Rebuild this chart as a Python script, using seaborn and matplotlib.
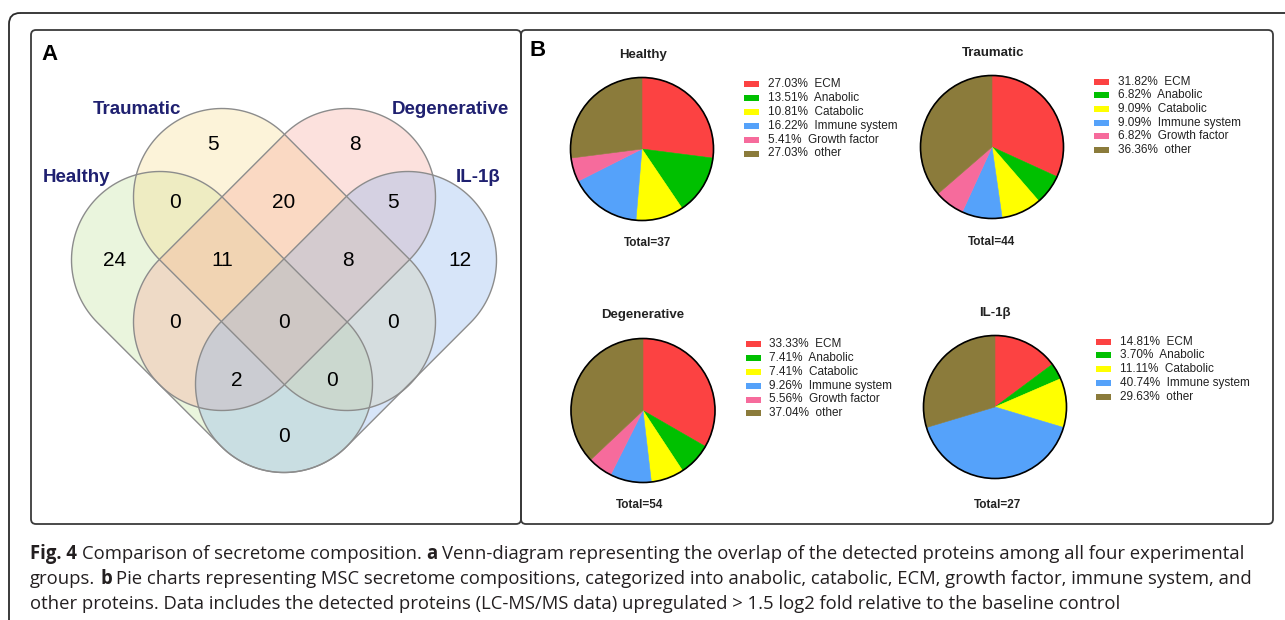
import numpy as np
import matplotlib
matplotlib.use("Agg")
import matplotlib.pyplot as plt
import seaborn as sns
from matplotlib.patches import Polygon, FancyBboxPatch, Rectangle, Circle
from matplotlib import font_manager as fm

# ---------------- data ----------------
venn_sets = ["Healthy", "Traumatic", "Degenerative", "IL-1β"]
venn_regions = ["H", "T", "D", "I", "HT", "TD", "DI", "HTD", "TDI",
                "HD", "HTDI", "TI", "HDI", "HTI", "HI"]
venn_counts = [24, 5, 8, 12, 0, 20, 5, 11, 8, 0, 0, 0, 2, 0, 0]

categories = ["ECM", "Anabolic", "Catabolic", "Immune system", "Growth factor", "other"]
healthy_pct = [27.03, 13.51, 10.81, 16.22, 5.41, 27.03]
traumatic_pct = [31.82, 6.82, 9.09, 9.09, 6.82, 36.36]
degenerative_pct = [33.33, 7.41, 7.41, 9.26, 5.56, 37.04]
il1b_pct = [14.81, 3.70, 11.11, 40.74, 0.0, 29.63]
pie_titles = ["Healthy", "Traumatic", "Degenerative", "IL-1β"]
pie_totals = [37, 44, 54, 27]

caption_lines = [
    [("Fig. 4", True), ("Comparison of secretome composition.", False), ("a", True),
     ("Venn-diagram representing the overlap of the detected proteins among all four experimental", False)],
    [("groups.", False), ("b", True),
     ("Pie charts representing MSC secretome compositions, categorized into anabolic, catabolic, ECM, growth factor, immune system, and", False)],
    [("other proteins. Data includes the detected proteins (LC-MS/MS data) upregulated > 1.5 log2 fold relative to the baseline control", False)],
]

# ---------------- style ----------------
sns.set_theme(style="white")
plt.rcParams["font.family"] = ["Liberation Sans", "DejaVu Sans"]
pie_palette = sns.color_palette(["#fc4242", "#00c000", "#ffff00", "#55a2fa", "#f66b9c", "#8b7b3b"])
venn_fill = ["#bcde91", "#f8da84", "#f89e91", "#7dacee"]
navy = "#1f2070"

W, H = 1285, 620
fig = plt.figure(figsize=(W / 100, H / 100), dpi=100)
bg = fig.add_axes([0, 0, 1, 1])
bg.set_xlim(0, W)
bg.set_ylim(H, 0)
bg.axis("off")

# ---------------- frames ----------------
bg.add_patch(FancyBboxPatch((9, 13), 1320, 660, boxstyle="round,pad=0,rounding_size=11",
                            fill=False, ec="#2b2b2b", lw=1.3))
bg.add_patch(FancyBboxPatch((31, 30), 490, 494, boxstyle="round,pad=0,rounding_size=5",
                            fill=False, ec="#3a3a3a", lw=1.3))
bg.add_patch(FancyBboxPatch((521, 30), 752, 494, boxstyle="round,pad=0,rounding_size=5",
                            fill=False, ec="#3a3a3a", lw=1.3))
bg.text(50, 54, "A", fontsize=16, fontweight="bold", ha="center", va="center", color="black")
bg.text(538, 50, "B", fontsize=16, fontweight="bold", ha="center", va="center", color="black")

# ---------------- Venn ----------------
vr = 88.5
stadiums = [((160, 260), (284, 384)),   # Healthy
            ((222, 197), (347, 322)),   # Traumatic
            ((347, 197), (222, 322)),   # Degenerative
            ((408, 260), (284, 384))]   # IL-1b


def stadium(p1, p2, r, n=80):
    p1 = np.array(p1, float)
    p2 = np.array(p2, float)
    th = np.arctan2(*(p2 - p1)[::-1])
    a2 = np.linspace(th - np.pi / 2, th + np.pi / 2, n)
    a1 = np.linspace(th + np.pi / 2, th + 3 * np.pi / 2, n)
    pts2 = p2 + r * np.c_[np.cos(a2), np.sin(a2)]
    pts1 = p1 + r * np.c_[np.cos(a1), np.sin(a1)]
    return np.vstack([pts2, pts1])


for (p1, p2), col in zip(stadiums, venn_fill):
    bg.add_patch(Polygon(stadium(p1, p2, vr), closed=True, fc=col, alpha=0.3, ec="none"))
for p1, p2 in stadiums:
    bg.add_patch(Polygon(stadium(p1, p2, vr), closed=True, fill=False, ec="#8c8c8c", lw=1.0))

region_pos = {"H": (115, 260), "T": (213, 145), "D": (355, 145), "I": (460, 260),
              "HT": (175, 202), "TD": (284, 202), "DI": (393, 202), "HTD": (222, 260),
              "TDI": (348, 260), "HD": (175, 323), "HTDI": (284, 323), "TI": (393, 323),
              "HDI": (237, 380), "HTI": (332, 380), "HI": (284, 437)}
for reg, cnt in zip(venn_regions, venn_counts):
    x, y = region_pos[reg]
    bg.text(x, y, str(cnt), fontsize=15, ha="center", va="center", color="black")

set_label_pos = [(76, 177), (137, 110), (450, 110), (478, 177)]
for name, (x, y) in zip(venn_sets, set_label_pos):
    bg.text(x, y, name, fontsize=13.5, fontweight="bold", ha="center", va="center", color=navy)

# ---------------- pies ----------------
pie_data = [healthy_pct, traumatic_pct, degenerative_pct, il1b_pct]
pie_geo = [(642, 149, 71.5), (992, 147, 71.5), (643, 410.5, 72), (995, 407, 71.5)]
title_pos = [(643, 55), (993, 53), (643, 315), (995, 313)]
total_pos = [(647, 243), (991, 242), (640, 505), (997, 505)]
legend_geo = [(744, 768, 84.0, 13.9), (1094, 1118, 81.7, 13.65),
              (746, 769, 344.3, 13.8), (1096, 1120, 341.7, 13.75)]

for vals, (cx, cy, r), tp, tt, title, total, (px, tx, y0, dy) in zip(
        pie_data, pie_geo, title_pos, total_pos, pie_titles, pie_totals, legend_geo):
    keep = [i for i, v in enumerate(vals) if v > 0]
    m = 1.04
    ax = fig.add_axes([(cx - r * m) / W, 1 - (cy + r * m) / H, 2 * r * m / W, 2 * r * m / H])
    wedges, _ = ax.pie([vals[i] for i in keep], colors=[pie_palette[i] for i in keep],
                       startangle=90, counterclock=False, radius=1)
    for w in wedges:
        w.set_edgecolor(w.get_facecolor())
        w.set_linewidth(0.4)
    ax.add_patch(Circle((0, 0), 1, fill=False, ec="black", lw=1.2))
    ax.set_xlim(-m, m)
    ax.set_ylim(-m, m)
    ax.set_aspect("equal")
    ax.axis("off")

    bg.text(tp[0], tp[1], title, fontsize=9.5, fontweight="bold", ha="center", va="center", color="#222222")
    bg.text(tt[0], tt[1], f"Total={total}", fontsize=8.5, fontweight="bold", ha="center", va="center",
            color="#222222")
    for k, i in enumerate(keep):
        y = y0 + k * dy
        bg.add_patch(Rectangle((px, y - 3), 14.5, 6, fc=pie_palette[i], ec="none"))
        bg.text(tx, y, f"{vals[i]:.2f}%  {categories[i]}", fontsize=8.5, ha="left", va="center",
                color="#222222")

# ---------------- caption ----------------
names = {f.name for f in fm.fontManager.ttflist}
cap_family = "Open Sans" if "Open Sans" in names else "Liberation Sans"
renderer = fig.canvas.get_renderer()


def run_width(s, bold, fs):
    t = bg.text(0, 0, s, fontsize=fs, fontweight="bold" if bold else "normal", family=cap_family)
    w = t.get_window_extent(renderer).width
    t.remove()
    return w


def space_w(fs):
    return run_width("x x", False, fs) - run_width("xx", False, fs)


def line_width(runs, fs):
    return sum(run_width(s, b, fs) for s, b in runs) + space_w(fs) * (len(runs) - 1)


fs0 = 12.0
fs = fs0 * (1212.0 / line_width(caption_lines[0], fs0))
sp = space_w(fs)
baselines = [559, 584, 609]
for runs, yb in zip(caption_lines, baselines):
    x = 30.0
    for s, b in runs:
        bg.text(x, yb, s, fontsize=fs, fontweight="bold" if b else "normal", family=cap_family,
                ha="left", va="baseline", color="#231f20")
        x += run_width(s, b, fs) + sp

fig.savefig("out.png", dpi=100)
